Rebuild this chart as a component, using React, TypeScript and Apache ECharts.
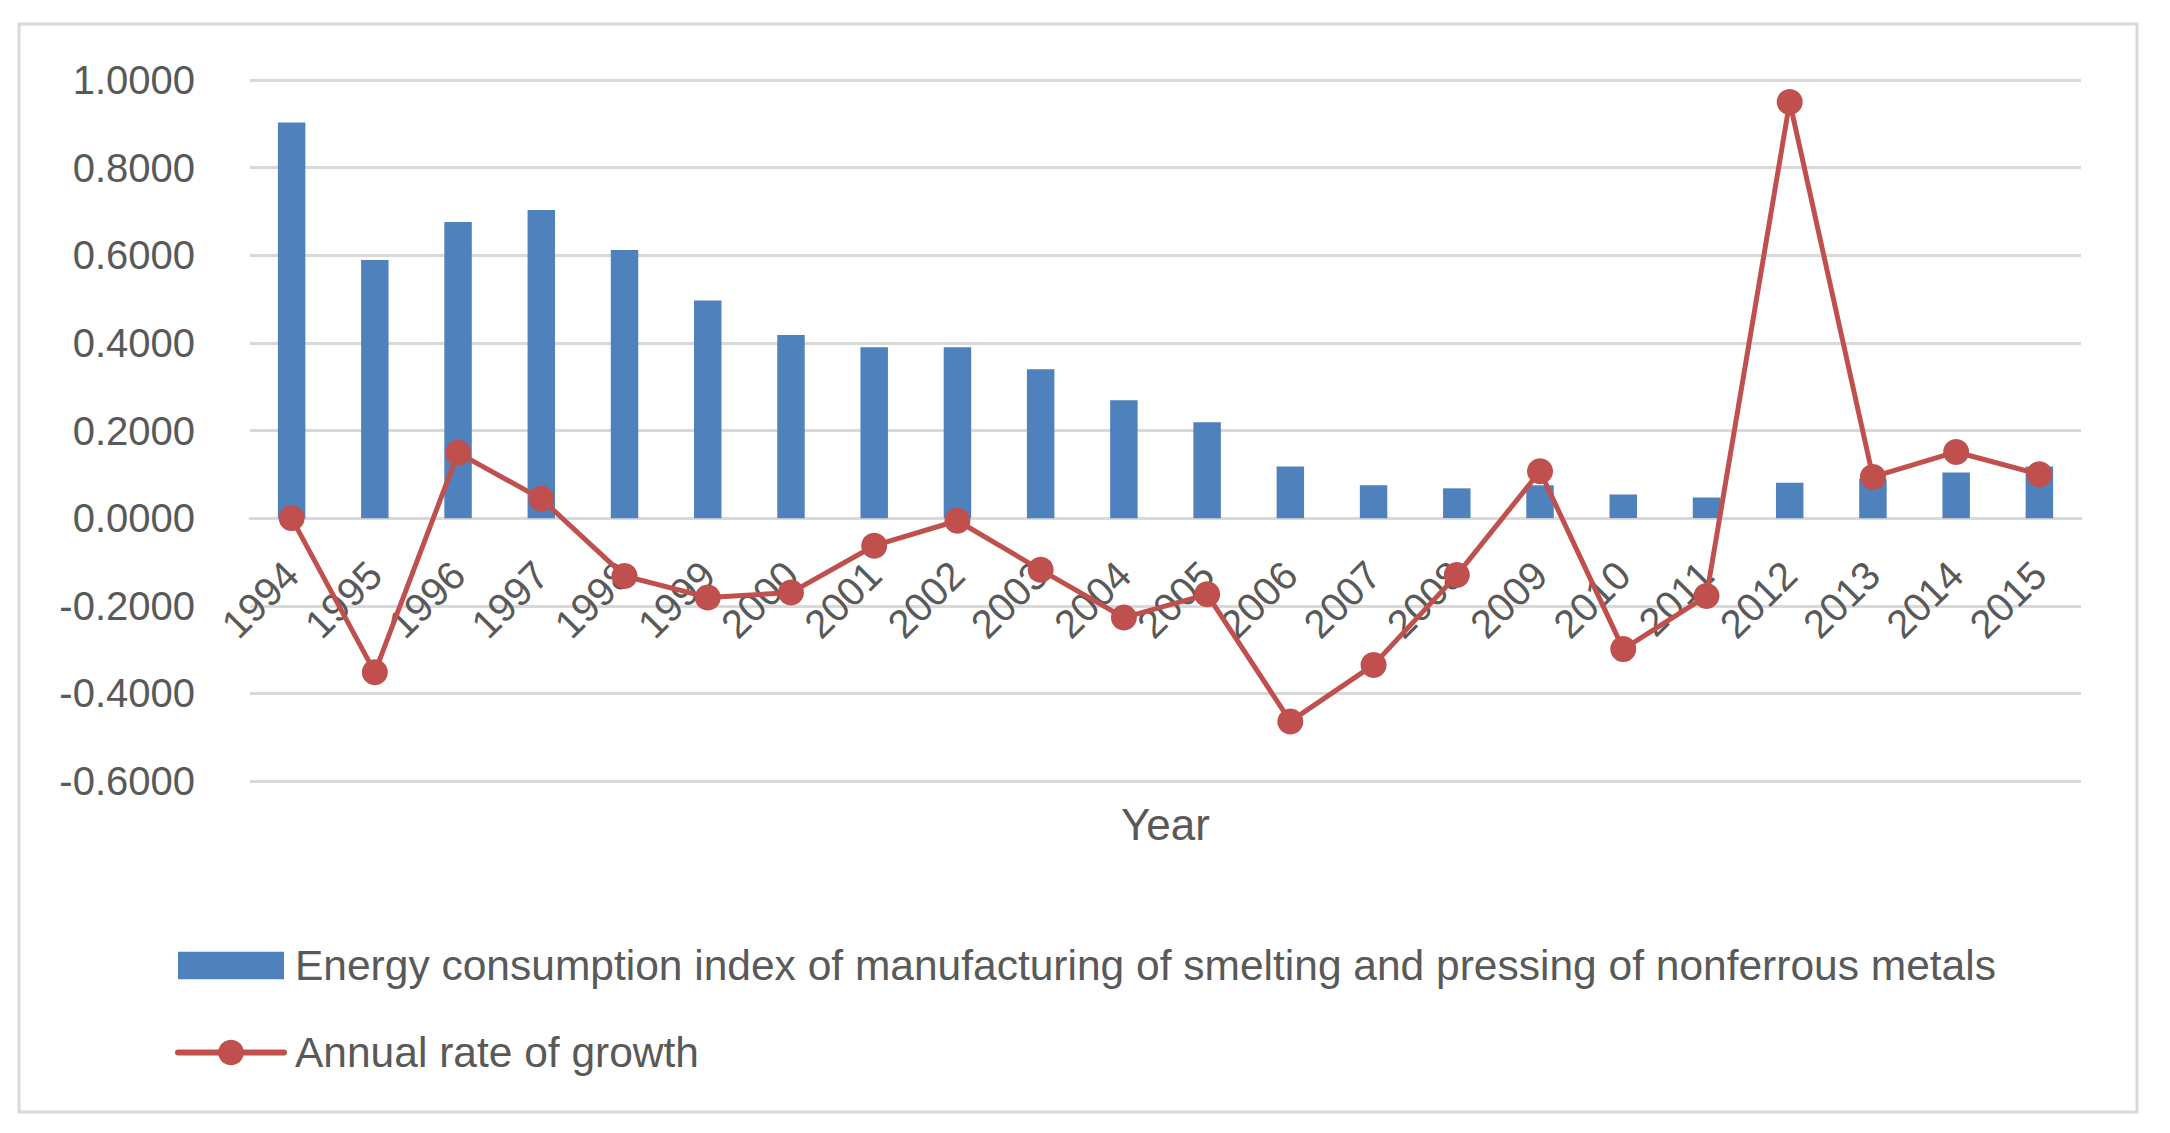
import React, { useEffect, useRef } from "react";
import * as echarts from "echarts";

const years = [
  "1994", "1995", "1996", "1997", "1998", "1999", "2000", "2001", "2002", "2003", "2004",
  "2005", "2006", "2007", "2008", "2009", "2010", "2011", "2012", "2013", "2014", "2015",
];

const energyIndex = [
  0.903, 0.589, 0.676, 0.703, 0.612, 0.497, 0.418, 0.39, 0.39, 0.34, 0.269,
  0.219, 0.118, 0.075, 0.068, 0.075, 0.054, 0.047, 0.081, 0.09, 0.104, 0.118,
];

const growthRate = [
  0.0, -0.352, 0.149, 0.044, -0.132, -0.181, -0.17, -0.063, -0.006, -0.118, -0.227,
  -0.174, -0.464, -0.335, -0.13, 0.107, -0.299, -0.178, 0.95, 0.094, 0.151, 0.1,
];

const barName =
  "Energy consumption index of manufacturing of smelting and pressing of nonferrous metals";
const lineName = "Annual rate of growth";
const axisTitle = "Year";

const FONT = "'Liberation Sans', Arial, sans-serif";
const TEXT = "#595959";
const GRID = "#d9d9d9";
const RED = "#c0504d";

export default function App() {
  const ref = useRef<HTMLDivElement>(null);

  useEffect(() => {
    document.body.style.margin = "0";
    if (!ref.current) return;
    const chart = echarts.init(ref.current, undefined, { renderer: "svg" });
    chart.setOption({
      animation: false,
      backgroundColor: "#ffffff",
      textStyle: { fontFamily: FONT },
      graphic: [
        {
          type: "rect",
          shape: { x: 19, y: 24, width: 2118, height: 1088 },
          style: { fill: "none", stroke: GRID, lineWidth: 3 },
          silent: true,
        },
      ],
      grid: { left: 250, right: 89, top: 80, bottom: 352, containLabel: false },
      legend: {
        orient: "vertical",
        left: 170,
        top: 939,
        itemWidth: 106,
        itemHeight: 32,
        itemGap: 44,
        textStyle: {
          fontFamily: FONT,
          fontSize: 42.5,
          lineHeight: 42,
          color: TEXT,
          padding: [0, 0, 0, 6],
        },
        data: [
          { name: barName, icon: "path://M0,0h101v26h-101z" },
          { name: lineName, lineStyle: { width: 6, color: RED, cap: "round" } },
        ],
      },
      xAxis: {
        type: "category",
        data: years,
        boundaryGap: true,
        position: "bottom",
        offset: -263,
        name: axisTitle,
        nameLocation: "middle",
        nameGap: 306,
        nameTextStyle: { fontFamily: FONT, fontSize: 44, color: TEXT, verticalAlign: "middle" },
        axisLine: { show: true, onZero: false, lineStyle: { color: GRID, width: 3 } },
        axisTick: { show: false },
        axisLabel: {
          interval: 0,
          rotate: 45,
          margin: 50,
          fontFamily: FONT,
          fontSize: 40,
          color: TEXT,
        },
        splitLine: { show: false },
      },
      yAxis: {
        type: "value",
        min: -0.6,
        max: 1.0,
        interval: 0.2,
        axisLine: { show: false },
        axisTick: { show: false },
        axisLabel: {
          margin: 55,
          fontFamily: FONT,
          fontSize: 40,
          color: TEXT,
          formatter: (v: number) => (Math.abs(v) < 1e-9 ? 0 : v).toFixed(4),
        },
        splitLine: { show: true, lineStyle: { color: GRID, width: 3 } },
      },
      series: [
        {
          name: barName,
          type: "bar",
          data: energyIndex,
          barWidth: "33%",
          itemStyle: { color: "#4f81bd" },
        },
        {
          name: lineName,
          type: "line",
          data: growthRate,
          symbol: "circle",
          symbolSize: 26,
          lineStyle: { color: RED, width: 5 },
          itemStyle: { color: RED },
        },
      ],
    });
    return () => chart.dispose();
  }, []);

  return <div ref={ref} style={{ width: 2170, height: 1133 }} />;
}
